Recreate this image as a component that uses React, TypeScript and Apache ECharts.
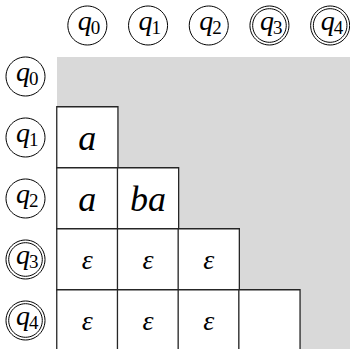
import React, { useEffect, useRef } from "react";
import * as echarts from "echarts";

const states = ["q0", "q1", "q2", "q3", "q4"];
const stateSubscripts = ["0", "1", "2", "3", "4"];
const accepting = [false, false, false, true, true];

// lower-triangle table cells: column state, row state, entry
const cellCols = [0, 0, 1, 0, 1, 2, 0, 1, 2, 3];
const cellRows = [1, 2, 2, 3, 3, 3, 4, 4, 4, 4];
const cellLabels = ["a", "a", "ba", "ε", "ε", "ε", "ε", "ε", "ε", ""];

const SERIF = '"Liberation Serif", "Times New Roman", serif';

export default function App() {
  const ref = useRef<HTMLDivElement>(null);

  useEffect(() => {
    if (!ref.current) return;
    const chart = echarts.init(ref.current, null, { renderer: "svg" });
    const hiddenAxis = {
      type: "category" as const,
      data: states,
      axisLine: { show: false },
      axisTick: { show: false },
      axisLabel: { show: false },
      splitLine: { show: false },
    };
    chart.setOption({
      animation: false,
      grid: {
        left: 57,
        top: 46,
        width: 303.5,
        height: 305,
        containLabel: false,
        outerBoundsMode: "none",
      },
      xAxis: { ...hiddenAxis, position: "top" },
      yAxis: { ...hiddenAxis, inverse: true },
      visualMap: {
        show: false,
        min: 0,
        max: 1,
        dimension: 2,
        seriesIndex: 0,
        inRange: { color: ["#ffffff", "#ffffff"] },
      },
      series: [
        {
          type: "heatmap",
          data: cellCols.map((c, i) => [c, cellRows[i], 1]),
          itemStyle: { borderColor: "#262626", borderWidth: 1.3 },
          emphasis: { disabled: true },
          label: {
            show: true,
            formatter: (p: any) => {
              const t = cellLabels[p.dataIndex];
              if (!t) return "";
              return t === "ε" ? "{e|ε}" : "{m|" + t + "}";
            },
            rich: {
              m: { fontFamily: SERIF, fontStyle: "italic", fontSize: 36, color: "#000" },
              e: { fontFamily: SERIF, fontStyle: "italic", fontSize: 28, color: "#000" },
            },
          },
        },
      ],
    });

    const header = (cx: number, cy: number, i: number) => {
      const children: any[] = [
        {
          type: "circle",
          shape: { cx: 0, cy: 0, r: 19.5 },
          style: { fill: "transparent", stroke: "#000", lineWidth: 1 },
        },
      ];
      if (accepting[i]) {
        children.push({
          type: "circle",
          shape: { cx: 0, cy: 0, r: 16.8 },
          style: { fill: "transparent", stroke: "#000", lineWidth: 1 },
        });
      }
      children.push({
        type: "text",
        style: {
          text: "q",
          x: -2.5,
          y: -5,
          fill: "#000",
          fontFamily: SERIF,
          fontStyle: "italic",
          fontSize: 28,
          align: "center",
          verticalAlign: "middle",
        },
      });
      children.push({
        type: "text",
        style: {
          text: stateSubscripts[i],
          x: 3.5,
          y: 2,
          fill: "#000",
          fontFamily: SERIF,
          fontSize: 19,
          align: "left",
          verticalAlign: "middle",
        },
      });
      return { type: "group", x: cx, y: cy, children };
    };

    const graphics: any[] = [
      {
        type: "rect",
        z: 0,
        shape: { x: 57, y: 57, width: 300, height: 300 },
        style: { fill: "#d9d9d9" },
      },
    ];
    states.forEach((s, i) => {
      const px = chart.convertToPixel({ xAxisIndex: 0 }, s) as unknown as number;
      const py = chart.convertToPixel({ yAxisIndex: 0 }, s) as unknown as number;
      graphics.push(header(px, 25.5, i));
      graphics.push(header(25.5, py, i));
    });
    chart.setOption({ graphic: graphics });

    return () => chart.dispose();
  }, []);

  return (
    <div
      ref={ref}
      style={{ position: "fixed", left: 0, top: 0, width: 350, height: 349, background: "#fff" }}
    />
  );
}
